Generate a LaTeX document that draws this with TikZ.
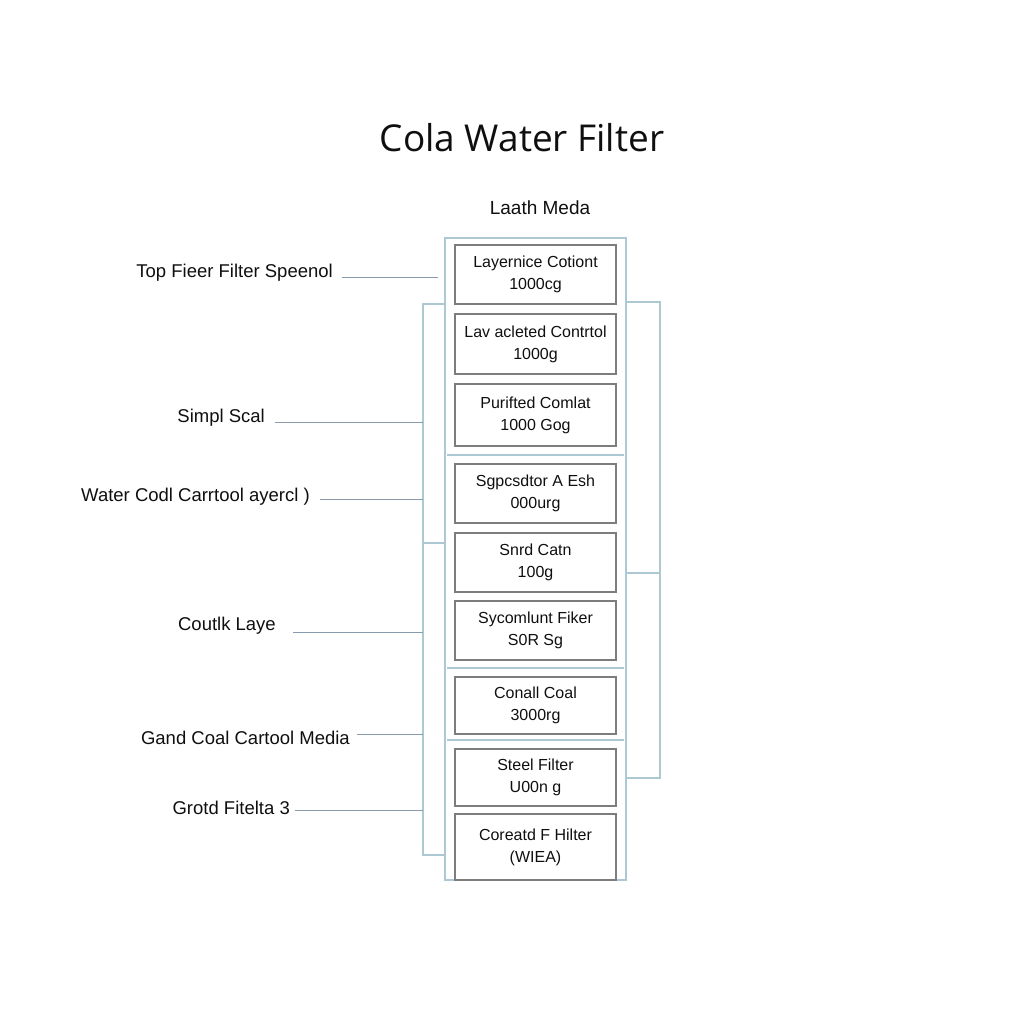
\documentclass[tikz,border=0pt]{standalone}
\usepackage{fontspec}
\setmainfont{Liberation Sans}
\newfontfamily\titlefont{Open Sans}
\definecolor{boxgray}{RGB}{125,125,125}
\definecolor{colblue}{RGB}{172,200,210}
\definecolor{leadblue}{RGB}{135,155,172}
\definecolor{inkc}{RGB}{15,15,15}
\begin{document}
\begin{tikzpicture}[x=1pt,y=-1pt,
  layerbox/.style={draw=boxgray, line width=1.1pt, minimum width=161pt, inner sep=0pt,
    align=center, text=inkc, font=\fontsize{16}{22}\selectfont},
  framecol/.style={draw=colblue, line width=1.2pt},
  leader/.style={draw=leadblue, line width=0.9pt},
  sidelabel/.style={anchor=east, inner sep=0pt, text=inkc, font=\fontsize{18.5}{21}\selectfont}]
\useasboundingbox (0,0) rectangle (1024,1024);
% title and header
\node[text=inkc, font=\titlefont\fontsize{37}{42}\selectfont] (title) at (522,138) {Cola Water Filter};
\node[text=inkc, font=\fontsize{19}{22}\selectfont] (header) at (540,208) {Laath Meda};
% brackets and outer column
\draw[framecol] (423,304) rectangle (445,855);
\draw[framecol] (423,543) -- (445,543);
\draw[framecol] (626,302) rectangle (660,778);
\draw[framecol] (626,573) -- (660,573);
\draw[framecol] (445,238) rectangle (626,880);
\draw[framecol] (447,455) -- (624,455);
\draw[framecol] (447,668) -- (624,668);
\draw[framecol] (447,740) -- (624,740);
% layer boxes
\node[layerbox, minimum height=59pt] (b1) at (535.5,274.5) {Layernice Cotiont\\1000cg};
\node[layerbox, minimum height=60pt] (b2) at (535.5,344) {Lav acleted Contrtol\\1000g};
\node[layerbox, minimum height=62pt] (b3) at (535.5,415) {Purifted Comlat\\1000 Gog};
\node[layerbox, minimum height=59pt] (b4) at (535.5,493.5) {Sgpcsdtor A Esh\\000urg};
\node[layerbox, minimum height=59pt] (b5) at (535.5,562.5) {Snrd Catn\\100g};
\node[layerbox, minimum height=59pt] (b6) at (535.5,630.5) {Sycomlunt Fiker\\S0R Sg};
\node[layerbox, minimum height=57pt] (b7) at (535.5,705.5) {Conall Coal\\3000rg};
\node[layerbox, minimum height=57pt] (b8) at (535.5,777.5) {Steel Filter\\U00n g};
\node[layerbox, minimum height=66pt] (b9) at (535.5,847) {Coreatd F Hilter\\(WIEA)};
% side labels
\node[sidelabel] (l1) at (333,273) {Top Fieer Filter Speenol};
\node[sidelabel] (l2) at (265,418) {Simpl Scal};
\node[sidelabel] (l3) at (310,497) {Water Codl Carrtool ayercl )};
\node[sidelabel] (l4) at (276,626) {Coutlk Laye};
\node[sidelabel] (l5) at (350,738) {Gand Coal Cartool Media};
\node[sidelabel] (l6) at (290,808) {Grotd Fitelta 3};
% leader end points
\coordinate (e1) at (438,277);
\coordinate (e2) at (423,422);
\coordinate (e3) at (423,499);
\coordinate (e4) at (423,632);
\coordinate (e5) at (423,734);
\coordinate (e6) at (423,810);
\draw[leader] (l1.east |- e1) ++(9,0) -- (e1);
\draw[leader] (l2.east |- e2) ++(10,0) -- (e2);
\draw[leader] (l3.east |- e3) ++(10,0) -- (e3);
\draw[leader] (l4.east |- e4) ++(17,0) -- (e4);
\draw[leader] (l5.east |- e5) ++(7,0) -- (e5);
\draw[leader] (l6.east |- e6) ++(5,0) -- (e6);
\end{tikzpicture}
\end{document}
